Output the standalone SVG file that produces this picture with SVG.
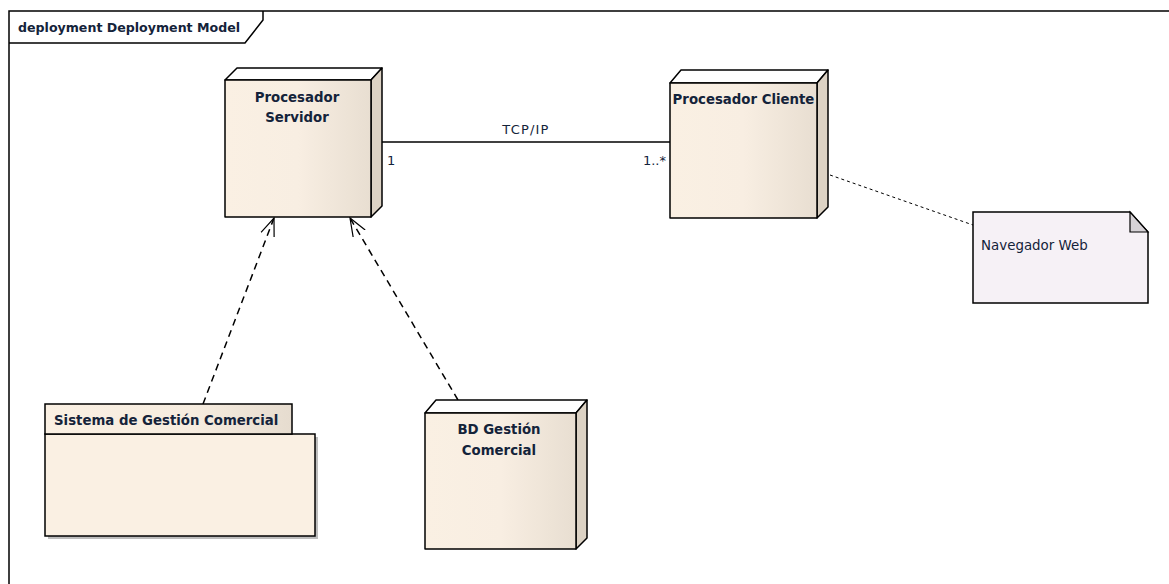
<svg xmlns="http://www.w3.org/2000/svg" width="1169" height="584" viewBox="0 0 1169 584">
<defs>
<linearGradient id="face" x1="0" y1="0" x2="1" y2="0">
<stop offset="0" stop-color="#FAF0E3"/>
<stop offset="0.5" stop-color="#F8EEE2"/>
<stop offset="1" stop-color="#E8DED1"/>
</linearGradient>
<linearGradient id="tab" x1="0" y1="0" x2="1" y2="0">
<stop offset="0" stop-color="#FAF0E3"/>
<stop offset="0.6" stop-color="#F6ECDF"/>
<stop offset="1" stop-color="#E6DCCF"/>
</linearGradient>
<marker id="open" viewBox="0 0 20 20" refX="18" refY="10" markerWidth="20" markerHeight="20" markerUnits="userSpaceOnUse" orient="auto">
<path d="M0,3 L18,10 L0,17" fill="none" stroke="#000" stroke-width="1.2"/>
</marker>
</defs>
<style>
.edge{stroke:#000;stroke-width:1.5;fill:none}
.node{stroke:#000;stroke-width:1.5;stroke-linejoin:round}
.top{fill:#FFFFFF}
.side{fill:#DCD2C4}
.front{fill:url(#face)}
.lbl{font-family:"DejaVu Sans",sans-serif;font-weight:bold;font-size:13.3px;fill:#14233a}
.clbl{font-family:"DejaVu Sans",sans-serif;font-size:13px;fill:#14233a}
.dash{stroke-dasharray:7,5}
.dot{stroke-dasharray:3,3;stroke-width:1}
</style>
<rect x="0" y="0" width="1169" height="584" fill="#fff"/>
<g id="frame">
<path d="M9,600 L9,11 L1180,11" fill="none" stroke="#000" stroke-width="1.5"/>
<path d="M9,43 L245,43 L263,20 L263,11" fill="none" stroke="#000" stroke-width="1.5"/>
<text x="18" y="32" font-family="DejaVu Sans,sans-serif" font-weight="bold" font-size="12.6" fill="#14233a">deployment Deployment Model</text>
</g>
<g id="connectors">
<line class="edge" x1="371" y1="142" x2="670" y2="142"/>
<text class="clbl" x="526" y="134" text-anchor="middle" letter-spacing="1.2">TCP/IP</text>
<text class="clbl" x="387" y="165">1</text>
<text class="clbl" x="666" y="165" text-anchor="end">1..*</text>
<line class="edge dash" x1="203" y1="404" x2="274" y2="218" marker-end="url(#open)"/>
<line class="edge dash" x1="458" y1="400" x2="350" y2="218" marker-end="url(#open)"/>
<line class="edge dot" x1="830" y1="175" x2="973" y2="225"/>
</g>
<g id="procesador-servidor">
<path class="node top" d="M225,80 L237,68 L382,68 L371,80 Z"/>
<path class="node side" d="M371,80 L382,68 L382,206 L371,217 Z"/>
<rect class="node front" x="225" y="80" width="146" height="137"/>
<text class="lbl" x="297" y="102" text-anchor="middle">Procesador</text>
<text class="lbl" x="297" y="122" text-anchor="middle">Servidor</text>
</g>
<g id="procesador-cliente">
<path class="node top" d="M670,83 L681,70 L828,70 L817,83 Z"/>
<path class="node side" d="M817,83 L828,70 L828,207 L817,218 Z"/>
<rect class="node front" x="670" y="83" width="147" height="135"/>
<text class="lbl" x="743.5" y="104" text-anchor="middle">Procesador Cliente</text>
</g>
<g id="navegador-web">
<path d="M973,212 L1130,212 L1148,232 L1148,303 L973,303 Z" fill="#F6F1F6" stroke="#000" stroke-width="1.5"/>
<path d="M1130,212 L1130,232 L1148,232 Z" fill="#D6D2D6" stroke="#000" stroke-width="1.2"/>
<text x="981" y="250" font-family="DejaVu Sans,sans-serif" font-size="13.4" fill="#14233a">Navegador Web</text>
</g>
<g id="sistema-gestion-comercial">
<rect x="48" y="437" width="270" height="102" fill="#BDBDBD"/>
<rect x="45" y="434" width="270" height="102" fill="#FAF0E3" stroke="#000" stroke-width="1.5"/>
<rect x="45" y="404" width="247" height="30" fill="url(#tab)" stroke="#000" stroke-width="1.5"/>
<text class="lbl" x="54" y="425">Sistema de Gestión Comercial</text>
</g>
<g id="bd-gestion-comercial">
<path class="node top" d="M425,413 L436,400 L587,400 L576,413 Z"/>
<path class="node side" d="M576,413 L587,400 L587,538 L576,549 Z"/>
<rect class="node front" x="425" y="413" width="151" height="136"/>
<text class="lbl" x="499" y="434" text-anchor="middle">BD Gestión</text>
<text class="lbl" x="499" y="455" text-anchor="middle">Comercial</text>
</g>
</svg>
